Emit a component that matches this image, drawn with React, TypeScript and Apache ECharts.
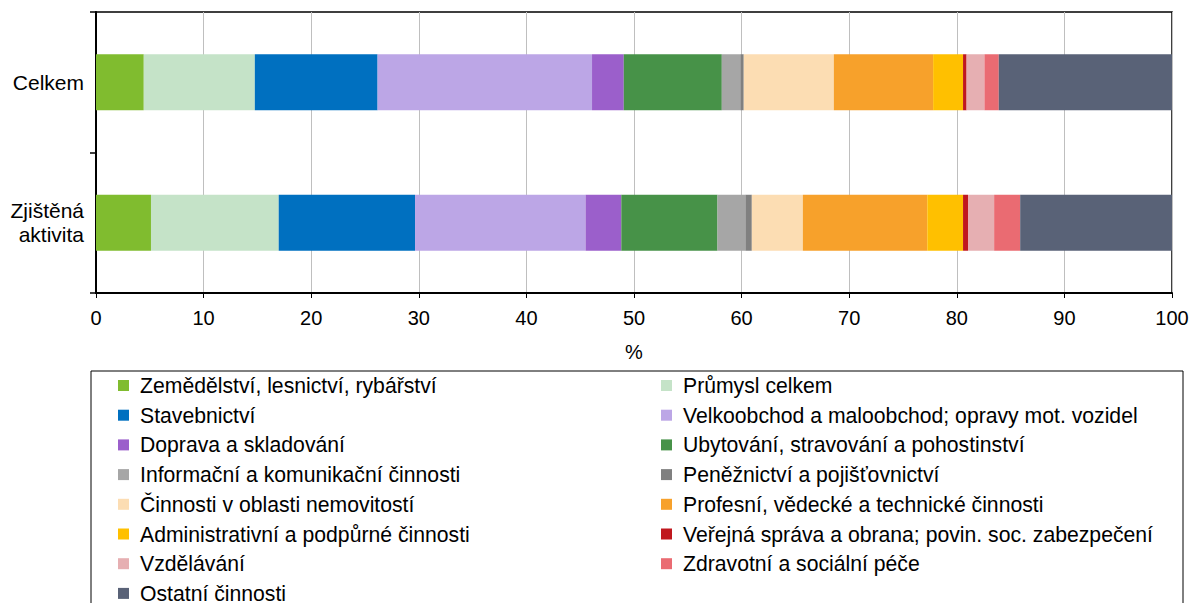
import React, { useEffect, useRef } from "react";
import * as echarts from "echarts";

const categories = ["Celkem", "Zjištěná\naktivita"];

const sectors = [
  "Zemědělství, lesnictví, rybářství",
  "Průmysl celkem",
  "Stavebnictví",
  "Velkoobchod a maloobchod; opravy mot. vozidel",
  "Doprava a skladování",
  "Ubytování, stravování a pohostinství",
  "Informační a komunikační činnosti",
  "Peněžnictví a pojišťovnictví",
  "Činnosti v oblasti nemovitostí",
  "Profesní, vědecké a technické činnosti",
  "Administrativní a podpůrné činnosti",
  "Veřejná správa a obrana; povin. soc. zabezpečení",
  "Vzdělávání",
  "Zdravotní a sociální péče",
  "Ostatní činnosti",
];

const celkemValues = [4.44, 10.32, 11.41, 19.93, 2.95, 9.11, 1.72, 0.32, 8.37, 9.23, 2.78, 0.33, 1.66, 1.33, 16.1];
const aktivitaValues = [5.11, 11.87, 12.67, 15.85, 3.32, 8.94, 2.59, 0.6, 4.74, 11.57, 3.32, 0.46, 2.43, 2.42, 14.11];

const xTicks = [0, 10, 20, 30, 40, 50, 60, 70, 80, 90, 100];

const colors = [
  "#80bc2f", "#c5e3c8", "#0070c0", "#bca6e6", "#9b5fcb",
  "#479248", "#a6a6a6", "#808080", "#fcddb3", "#f7a12b",
  "#ffc000", "#c0181e", "#e6afb2", "#ea6b72", "#596277",
];

const FONT = "'Liberation Sans', Arial, sans-serif";

export default function App() {
  const ref = useRef<HTMLDivElement>(null);
  useEffect(() => {
    document.body.style.margin = "0";
    if (!ref.current) return;
    const chart = echarts.init(ref.current, undefined, { renderer: "svg" });
    const leftNames = sectors.filter((_, i) => i % 2 === 0);
    const rightNames = sectors.filter((_, i) => i % 2 === 1);
    const legendCommon = {
      orient: "vertical" as const,
      top: 375,
      height: 260,
      padding: 0,
      itemWidth: 11,
      itemHeight: 11,
      itemGap: 8.7,
      icon: "rect",
      selectedMode: false,
      textStyle: {
        fontFamily: FONT,
        fontSize: 21.2,
        color: "#000",
        lineHeight: 20,
        padding: [0, 0, 0, 6],
      },
    };
    chart.setOption({
      animation: false,
      textStyle: { fontFamily: FONT },
      grid: {
        left: 96,
        right: 21,
        top: 12,
        bottom: 310,
        show: true,
        borderColor: "#000",
        borderWidth: 1.5,
        containLabel: false,
      },
      legend: [
        { ...legendCommon, left: 118, data: leftNames },
        { ...legendCommon, left: 661, data: rightNames },
      ],
      graphic: [
        {
          type: "rect",
          shape: { x: 91, y: 371, width: 1092, height: 250 },
          style: { fill: "none", stroke: "#000", lineWidth: 1 },
          silent: true,
        },
      ],
      xAxis: {
        type: "value",
        min: 0,
        max: 100,
        interval: 10,
        name: "%",
        nameLocation: "middle",
        nameGap: 49,
        nameTextStyle: { fontFamily: FONT, fontSize: 20, color: "#000" },
        axisLine: { show: true, lineStyle: { color: "#000", width: 2 } },
        axisTick: { show: true, length: 5, lineStyle: { color: "#000", width: 1 } },
        axisLabel: {
          fontFamily: FONT,
          fontSize: 20,
          color: "#000",
          margin: 15,
          formatter: (v: number) => (xTicks.includes(v) ? String(v) : ""),
        },
        splitLine: { show: true, lineStyle: { color: "#bfbfbf", width: 1 } },
      },
      yAxis: {
        type: "category",
        data: categories,
        inverse: true,
        axisLine: { show: true, lineStyle: { color: "#000", width: 2 } },
        axisTick: { show: true, length: 6, lineStyle: { color: "#000", width: 1.5 } },
        axisLabel: {
          fontFamily: FONT,
          fontSize: 21,
          color: "#000",
          margin: 12,
          lineHeight: 24,
          align: "right",
        },
        splitLine: { show: false },
      },
      series: sectors.map((name, i) => ({
        name,
        type: "bar",
        stack: "total",
        barWidth: 56,
        itemStyle: { color: colors[i] },
        data: [celkemValues[i], aktivitaValues[i]],
      })),
    });
    return () => chart.dispose();
  }, []);
  return <div ref={ref} style={{ width: 1193, height: 603 }} />;
}
